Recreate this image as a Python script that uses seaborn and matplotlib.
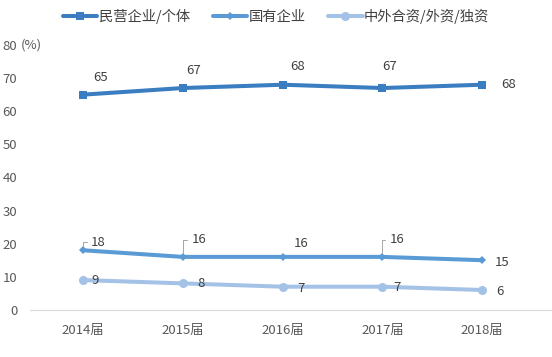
import numpy as np
import pandas as pd
import matplotlib
matplotlib.use("Agg")
import matplotlib.pyplot as plt
import seaborn as sns
from matplotlib.lines import Line2D

sns.set_theme(style="white")
plt.rcParams['font.family'] = ['Noto Sans CJK SC', 'DejaVu Sans']

# 数据
years = ['2014届', '2015届', '2016届', '2017届', '2018届']
series_names = ['民营企业/个体', '国有企业', '中外合资/外资/独资']
private = [65, 67, 68, 67, 68]
state = [18, 16, 16, 16, 15]
foreign = [9, 8, 7, 7, 6]
colors = ['#3a7dc0', '#5b9bd5', '#a4c2e6']
markers = ['s', 'D', 'o']
msizes = [6, 4, 6.5]

df = pd.DataFrame({
    'year': years * 3,
    'value': private + state + foreign,
    'series': [s for s in series_names for _ in years],
})
df['x'] = df['year'].map({y: i for i, y in enumerate(years)})

fig = plt.figure(figsize=(5.52, 3.57), dpi=100, facecolor='white')
ax = fig.add_axes([0.054, 0.132, 0.946, 0.742])

for name, c, m, ms in zip(series_names, colors, markers, msizes):
    sub = df[df['series'] == name]
    sns.lineplot(data=sub, x='x', y='value', color=c, lw=2.9, marker=m,
                 markersize=ms, markeredgewidth=0, ax=ax, legend=False)

grey = '#404040'
lead = '#a6a6a6'
fs = 9.5

# 标签偏移（像素）
priv_off = [(17, 17), (11, 18), (15, 18), (7, 22), (26, 0)]
state_off = [(13, 8), (14, 17), (18, 13), (12, 17), (20, -2)]
for_off = [(12, 0), (18, 0), (18, -2), (15, -1), (18, -1)]

for i, v in enumerate(private):
    arrow = None
    if i == 3:
        arrow = dict(arrowstyle='-', color='#d0d0d0', lw=0.6, shrinkA=5, shrinkB=3)
    ax.annotate(str(v), xy=(i, v), xytext=priv_off[i], textcoords='offset pixels',
                ha='center', va='center', fontsize=fs, color=grey, arrowprops=arrow)

for i, v in enumerate(state):
    if i in (0, 1, 3):
        ax.annotate(str(v), xy=(i, v), xytext=(state_off[i][0] - 5, state_off[i][1]),
                    textcoords='offset pixels', ha='left', va='center',
                    fontsize=fs, color=grey,
                    arrowprops=dict(arrowstyle='-', color=lead, lw=0.7,
                                    connectionstyle='angle,angleA=0,angleB=90,rad=0',
                                    shrinkA=1, shrinkB=3))
    else:
        ax.annotate(str(v), xy=(i, v), xytext=state_off[i], textcoords='offset pixels',
                    ha='center', va='center', fontsize=fs, color=grey)

for i, v in enumerate(foreign):
    ax.annotate(str(v), xy=(i, v), xytext=for_off[i], textcoords='offset pixels',
                ha='center', va='center', fontsize=fs, color=grey)

ax.set_xlim(-0.535, 4.7)
ax.set_ylim(0, 80)
ax.set_yticks(np.arange(0, 81, 10))
ax.set_xticks(range(len(years)))
ax.set_xticklabels(years)
ax.tick_params(axis='both', length=0, labelsize=fs, colors='#595959')
ax.tick_params(axis='y', pad=9)
ax.tick_params(axis='x', pad=10)
ax.set_xlabel('')
ax.set_ylabel('')
fig.text(21 / 552, 1 - 45 / 357, '(%)', fontsize=fs, color='#595959',
         va='center', ha='left')

sns.despine(ax=ax, left=True, top=True, right=True)
ax.spines['bottom'].set_color('#d9d9d9')
ax.spines['bottom'].set_linewidth(0.8)

handles = [Line2D([0], [0], color=c, lw=2.9, marker=m, markersize=ms, markeredgewidth=0)
           for c, m, ms in zip(colors, markers, msizes)]
fig.legend(handles=handles, labels=series_names, loc='center',
           bbox_to_anchor=(0.5, 1 - 16 / 357), ncol=3, frameon=False, fontsize=10.3,
           handlelength=2.4, handletextpad=0.1, columnspacing=1.6,
           labelcolor='#404040')

fig.savefig('out.png', dpi=100, facecolor='white')
